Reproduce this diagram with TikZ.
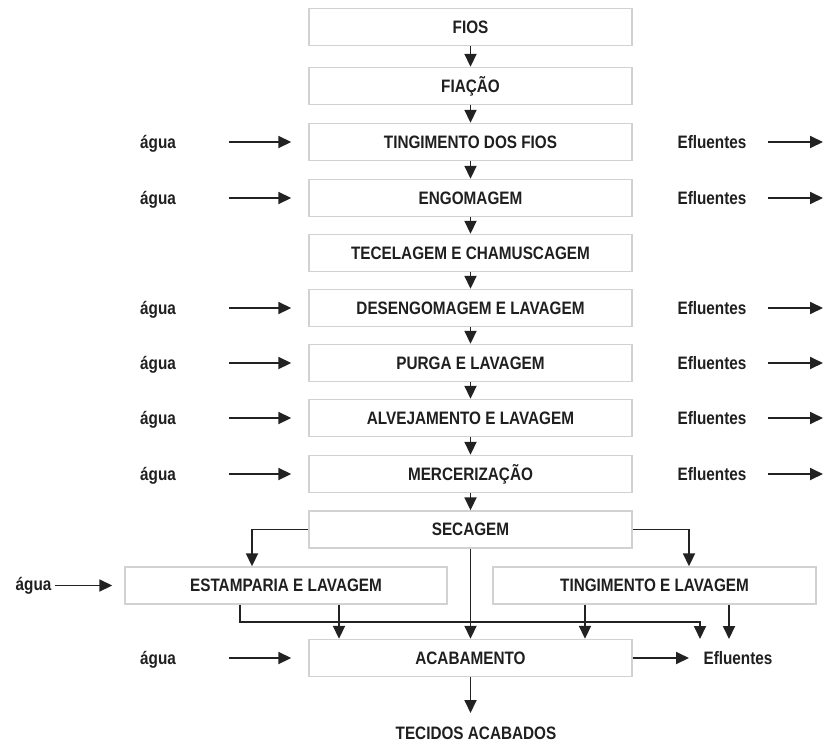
\documentclass[tikz,border=0pt]{standalone}
\usepackage{fontspec}
\setmainfont{Liberation Sans}[FakeStretch=0.85]
\usetikzlibrary{arrows.meta}
\definecolor{boxgray}{HTML}{D2D2D2}
\definecolor{linegray}{HTML}{222222}
\tikzset{
  txt/.style={font=\bfseries\fontsize{18}{21}\selectfont, text=black!88, inner sep=0pt},
  box/.style={txt, draw=boxgray, line width=1.4pt, minimum height=37pt, minimum width=323pt},
  arr/.style={draw=linegray, line width=1.8pt, -{Triangle[length=13pt,width=12pt]}},
}
\begin{document}
\begin{tikzpicture}[x=1pt,y=-1pt]
\useasboundingbox (0,0) rectangle (824,742);
% main column
\node[box] (fios)   at (470.5,27)  {FIOS};
\node[box] (fiacao) at (470.5,86)  {FIAÇÃO};
\node[box] (ting)   at (470.5,142) {TINGIMENTO DOS FIOS};
\node[box] (engom)  at (470.5,198) {ENGOMAGEM};
\node[box] (tecel)  at (470.5,253) {TECELAGEM E CHAMUSCAGEM};
\node[box] (deseng) at (470.5,308) {DESENGOMAGEM E LAVAGEM};
\node[box] (purga)  at (470.5,363) {PURGA E LAVAGEM};
\node[box] (alvej)  at (470.5,418) {ALVEJAMENTO E LAVAGEM};
\node[box] (merc)   at (470.5,474) {MERCERIZAÇÃO};
\node[box] (sec)    at (470.5,529.5) {SECAGEM};
\node[box, minimum width=322pt] (estamp)  at (286,585.5)   {ESTAMPARIA E LAVAGEM};
\node[box] (tinglav) at (654.5,585.5) {TINGIMENTO E LAVAGEM};
\node[box] (acab)   at (470.5,658) {ACABAMENTO};
\node[txt, anchor=base] (tec) at (476,739) {TECIDOS ACABADOS};

\draw[arr] (fios) -- (fiacao);
\draw[arr] (fiacao) -- (ting);
\draw[arr] (ting) -- (engom);
\draw[arr] (engom) -- (tecel);
\draw[arr] (tecel) -- (deseng);
\draw[arr] (deseng) -- (purga);
\draw[arr] (purga) -- (alvej);
\draw[arr] (alvej) -- (merc);
\draw[arr] (merc) -- (sec);

% side inputs and outputs
\foreach \n/\y in {ting/142, engom/198, deseng/308, purga/363, alvej/418, merc/474} {
  \node[txt, anchor=base] (a\n) at (158,\y+6) {água};
  \node[txt, anchor=base] (e\n) at (712,\y+6.5) {Efluentes};
  \coordinate (s\n) at (229,\y);
  \coordinate (t\n) at (768,\y);
  \coordinate (o\n) at (823,\y);
  \draw[arr] (s\n) -- ([xshift=-17pt]\n.west);
  \draw[arr] (t\n) -- (o\n);
}

% branches from SECAGEM
\draw[arr] (sec.west) -| ([xshift=-34pt]estamp.north);
\draw[arr] (sec.east) -| ([xshift=34.5pt]tinglav.north);
\draw[arr] (sec.south) -- (acab.north);

% ESTAMPARIA
\node[txt, anchor=base] (aest) at (33.5,590) {água};
\coordinate (sest) at (55,585.5);
\draw[arr] (sest) -- ([xshift=-12pt]estamp.west);
\draw[arr] ([xshift=53pt]estamp.south) -- ([xshift=-131.5pt]acab.north);
\coordinate (jn) at (700,622);
\coordinate (ef1) at (700,639);
\coordinate (ef2) at (729,639);
\draw[arr] ([xshift=-46pt]estamp.south) |- (jn) -- (ef1);

% TINGIMENTO E LAVAGEM
\draw[arr] ([xshift=-69.5pt]tinglav.south) -- ([xshift=114.5pt]acab.north);
\draw[arr] ([xshift=74.5pt]tinglav.south) -- (ef2);

% ACABAMENTO
\node[txt, anchor=base] (aacab) at (158,664) {água};
\node[txt, anchor=base] (eacab) at (738,664.5) {Efluentes};
\coordinate (sacab) at (229,658);
\coordinate (tacab) at (689,658);
\draw[arr] (sacab) -- ([xshift=-17pt]acab.west);
\draw[arr] (acab.east) -- (tacab);
\coordinate (tecin) at (470.5,713);
\draw[arr] (acab.south) -- (tecin);
\end{tikzpicture}
\end{document}
